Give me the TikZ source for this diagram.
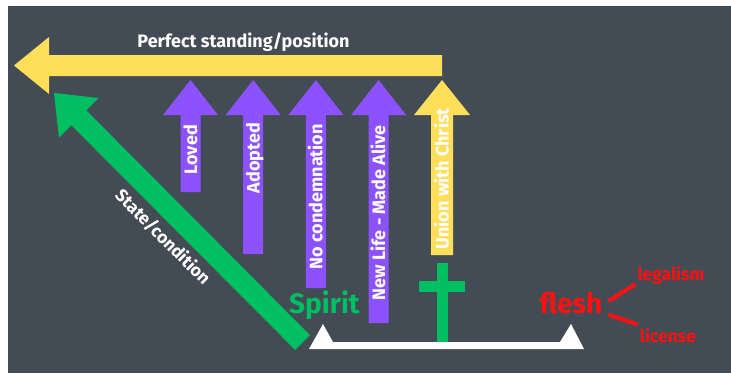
\documentclass[tikz,border=0pt]{standalone}
\usepackage{fontspec}
\setmainfont{Fira Sans}
\usepackage{tikz}
\usepackage{xcolor}
\usetikzlibrary{positioning}

\definecolor{slate}{HTML}{434B55}
\definecolor{sunyellow}{HTML}{FFDE59}
\definecolor{armviolet}{HTML}{8C52FF}
\definecolor{spiritgreen}{HTML}{00BF63}
\definecolor{fleshred}{HTML}{FF1010}

\tikzset{
  armtext/.style={text=white, font=\fontsize{18}{20}\selectfont\bfseries, rotate=90, inner sep=0pt, anchor=base east},
  bigword/.style={font=\fontsize{28}{32}\selectfont\bfseries, inner sep=0pt, anchor=base},
  sideword/.style={text=fleshred, font=\fontsize{17.5}{20}\selectfont\bfseries, inner sep=0pt, anchor=base},
  fleshline/.style={fleshred, line width=4pt}
}

\begin{document}
\begin{tikzpicture}[x=1pt, y=-1pt]
    \useasboundingbox (0,0) rectangle (731,373);
    \fill[slate] (8,6) rectangle (731,373);

    \fill[sunyellow] (442,55) -- (49,55) -- (49,37) -- (14,65.5) -- (49,94) -- (49,76) -- (442,76) -- cycle;
    \node[text=white, font=\fontsize{18}{20}\selectfont\bfseries, inner sep=0pt, anchor=base] (standing) at (243.5,47) {Perfect standing/position};

    \foreach \word/\low/\high[count=\i] in {Loved/192/125, Adopted/254/123, No condemnation/288/124, New Life - Made Alive/323/125} {
        \pgfmathsetmacro\cx{127.8+62.7*\i}
        \fill[armviolet] (\cx-10,\low) -- (\cx-10,115) -- (\cx-27.5,115) -- (\cx,80) -- (\cx+27.5,115) -- (\cx+10,115) -- (\cx+10,\low) -- cycle;
        \node[armtext] (arm\i) at (\cx+6.5,\high) {\word};
    }
    \fill[sunyellow] (431,255) -- (431,115) -- (414,115) -- (442,80) -- (470,115) -- (453,115) -- (453,255) -- cycle;
    \node[armtext] (union) at (448.5,108) {Union with Christ};

    \fill[spiritgreen] (54,93) -- (98.5,98) -- (86.2,110.3) -- (309.9,335.1) -- (295.1,349.9) -- (71.3,125.2) -- (58.95,137.55) -- cycle;
    \node[text=white, font=\fontsize{17.5}{20}\selectfont\bfseries, rotate=-45, inner sep=0pt] (state) at (163,237) {State/condition};

    \fill[spiritgreen] (437,263) rectangle (448,343);
    \fill[spiritgreen] (419,281) rectangle (465,292);
    \fill[white] (309,349) -- (323,324) -- (333,342) -- (560,342) -- (571,324) -- (584,349) -- cycle;

    \node[bigword, text=spiritgreen] (spirit) at (324.5,313) {Spirit};
    \node[bigword, text=fleshred] (flesh) at (571,313) {flesh};
    \node[sideword] (legalism) at (671,280) {legalism};
    \node[sideword] (license) at (668,342) {license};
    \draw[fleshline] ([xshift=6pt,yshift=1.5pt]flesh.east) -- ([xshift=-2pt]legalism.south west);
    \draw[fleshline] ([xshift=6pt,yshift=-1pt]flesh.south east) -- ([xshift=-2pt,yshift=3pt]license.north west);
\end{tikzpicture}
\end{document}
